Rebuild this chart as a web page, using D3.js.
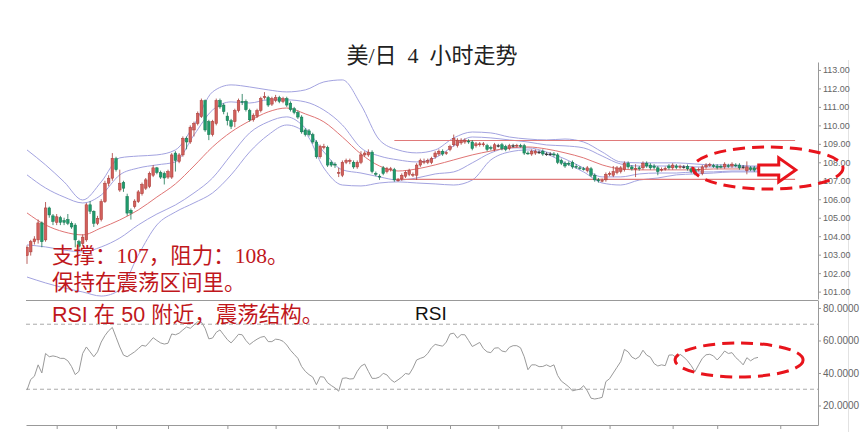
<!DOCTYPE html>
<html><head><meta charset="utf-8">
<script src="https://cdn.jsdelivr.net/npm/d3@7"></script>
<style>body{margin:0;background:#fff}svg{display:block}</style>
</head><body>
<svg id="c" width="865" height="448"></svg>
<script>
// ---- data (USD/JPY 4h candles) ----
const open = [102.95,103.15,103.70,103.80,104.72,103.80,105.53,105.10,104.75,105.00,104.85,104.90,104.70,104.60,103.70,103.60,103.80,105.70,105.35,104.70,
104.90,105.87,106.87,107.14,108.20,106.50,106.90,106.15,105.40,105.60,105.87,106.30,106.60,106.70,107.30,107.70,107.45,107.40,107.20,107.20,
108.50,108.05,108.40,109.30,109.10,109.75,110.10,110.47,111.34,110.20,109.50,110.10,111.34,111.10,110.50,110.25,110.20,110.80,111.30,111.30,
110.80,110.30,110.50,110.80,111.50,111.50,111.15,111.35,111.50,111.30,111.45,111.20,110.90,110.70,110.45,109.75,109.70,109.50,109.10,108.30,
108.80,108.80,108.00,107.90,107.40,107.30,108.00,108.05,108.00,107.75,108.00,108.40,108.40,108.55,107.40,107.25,107.70,107.50,107.60,107.60,
107.00,107.10,107.25,107.35,107.30,107.30,107.85,108.00,108.00,108.00,108.30,108.45,108.60,108.50,108.70,108.95,108.90,109.05,109.10,109.15,
109.10,108.90,108.95,108.95,108.90,108.80,108.70,108.90,108.95,108.85,108.75,108.90,108.90,108.90,108.90,108.50,108.45,108.50,108.55,108.60,
108.45,108.45,108.45,108.40,108.10,107.95,107.95,108.00,107.78,107.70,107.65,107.55,107.65,107.30,107.05,107.00,107.05,107.35,107.30,107.45,
107.50,107.60,107.95,107.75,107.65,107.70,107.70,107.95,107.85,107.80,107.70,107.60,107.65,107.80,107.70,107.80,107.75,107.75,107.78,107.65,
107.60,107.60,107.40,107.75,107.85,107.82,107.80,107.78,107.75,107.82,107.80,107.85,107.85,107.75,107.55,107.70,107.70,107.68];
const close = [103.40,103.70,103.85,104.72,103.70,105.53,105.15,104.80,105.05,104.75,104.75,104.70,104.50,103.80,103.45,103.95,105.70,105.35,104.70,104.97,
105.87,106.87,107.14,108.22,107.60,106.87,106.60,105.25,105.25,105.90,106.40,106.80,107.05,107.40,107.70,107.45,107.20,107.15,107.50,108.40,
108.10,108.40,109.30,109.10,109.90,110.10,110.65,111.34,109.75,109.50,110.20,111.34,111.00,110.75,110.25,109.95,110.80,111.34,111.25,110.85,
110.30,110.55,110.80,111.45,111.55,111.10,111.45,111.50,111.30,111.45,111.10,110.85,110.70,110.45,109.65,109.50,109.50,109.10,108.30,108.85,
108.85,107.85,107.85,107.85,107.45,108.00,108.10,108.10,107.75,108.00,108.40,108.50,108.55,107.50,107.35,107.20,107.40,107.65,107.65,107.05,
107.05,107.30,107.45,107.55,107.35,107.85,108.10,108.05,108.10,108.20,108.50,108.60,108.45,108.52,108.85,109.30,109.20,109.20,109.20,109.10,
108.75,109.00,109.00,109.00,108.70,108.75,108.95,108.90,108.75,108.70,108.90,108.90,108.92,108.88,108.50,108.48,108.60,108.60,108.55,108.45,
108.45,108.45,108.40,108.00,107.95,107.80,107.90,107.75,107.75,107.68,107.62,107.70,107.30,107.05,107.00,107.02,107.35,107.40,107.50,107.70,
107.70,107.95,107.75,107.65,107.67,107.65,107.95,107.80,107.70,107.72,107.50,107.62,107.67,107.70,107.85,107.72,107.77,107.75,107.65,107.50,
107.40,107.62,107.75,107.85,107.87,107.80,107.72,107.77,107.90,107.80,107.90,107.83,107.70,107.75,107.75,107.62,107.58,107.70];
const high = [103.50,103.80,104.00,104.90,104.80,105.85,105.60,105.20,105.20,105.10,105.00,105.20,104.80,104.70,103.80,104.10,105.80,105.90,105.40,105.10,
106.00,107.00,107.30,108.50,108.30,107.60,107.00,106.30,105.50,106.00,106.50,106.90,107.15,107.50,107.85,107.75,107.55,107.50,107.60,108.50,
108.60,108.50,109.40,109.40,110.00,110.20,110.75,111.45,111.40,110.30,110.30,111.45,111.45,111.20,110.70,110.35,110.90,111.45,111.70,111.40,
110.90,110.65,110.90,111.55,111.80,111.60,111.55,111.65,111.60,111.55,111.55,111.30,111.00,110.80,110.55,109.85,109.80,109.60,109.20,108.95,
109.00,108.90,108.10,108.00,107.70,108.10,108.20,108.20,108.10,108.10,108.60,108.60,108.70,108.65,107.50,107.35,107.80,107.75,107.75,107.70,
107.15,107.40,107.55,107.65,107.45,107.95,108.20,108.20,108.20,108.30,108.60,108.70,108.70,108.60,108.95,109.50,109.30,109.30,109.30,109.25,
109.20,109.10,109.10,109.10,109.00,108.90,109.05,109.00,109.05,108.95,109.00,109.00,109.00,109.00,109.00,108.60,108.70,108.70,108.65,108.70,
108.55,108.55,108.55,108.50,108.20,108.05,108.05,108.10,107.90,107.80,107.75,107.80,107.75,107.40,107.15,107.12,107.45,107.50,107.80,107.80,
107.80,108.05,108.05,107.85,107.90,107.80,108.05,108.05,107.95,107.90,107.80,107.72,107.77,107.90,107.95,107.90,107.87,107.85,107.88,107.75,
107.70,107.72,107.85,107.95,107.97,107.92,107.90,107.88,108.00,107.92,108.00,107.95,107.95,107.85,108.05,107.80,107.80,107.80];
const low = [102.50,102.95,103.55,103.60,103.40,103.70,105.00,104.60,104.60,104.60,104.60,104.60,104.40,103.40,103.30,103.50,103.70,105.20,104.50,104.60,
104.80,105.80,106.70,107.00,107.50,106.40,106.40,105.10,104.90,105.50,105.80,106.20,106.50,106.60,107.20,107.35,107.10,106.80,107.10,107.10,
107.50,107.95,108.30,108.70,109.00,109.40,110.00,110.40,109.65,109.20,109.40,110.00,110.90,110.60,110.00,109.80,109.90,110.70,111.10,110.75,
110.20,110.20,110.40,110.70,111.40,111.00,111.05,111.25,111.20,111.20,111.00,110.75,110.60,110.35,109.55,109.40,109.40,109.00,108.20,108.20,
108.70,107.75,107.75,107.70,107.20,107.20,107.90,107.90,107.65,107.65,107.90,108.30,108.30,107.40,107.25,107.05,107.30,107.40,107.50,106.95,
106.95,107.00,107.15,107.25,107.20,107.05,107.75,107.90,107.90,107.90,108.20,108.35,108.35,108.40,108.60,108.85,108.80,108.95,109.00,109.00,
108.65,108.80,108.85,108.85,108.60,108.65,108.60,108.80,108.65,108.60,108.65,108.80,108.80,108.80,108.40,108.40,108.35,108.40,108.45,108.35,
108.35,108.35,108.30,107.90,107.85,107.70,107.80,107.65,107.65,107.60,107.55,107.45,107.20,106.95,106.90,106.92,106.95,107.25,107.20,107.35,
107.40,107.50,107.65,107.55,107.20,107.55,107.60,107.70,107.60,107.62,107.30,107.50,107.55,107.60,107.60,107.62,107.65,107.65,107.55,107.40,
107.30,107.50,107.30,107.65,107.75,107.70,107.62,107.67,107.65,107.70,107.70,107.73,107.60,107.65,107.35,107.52,107.48,107.58];
// Band lines, sampled at these candle indices
const bandIdx = [0,5,10,15,20,25,30,35,40,45,50,55,60,65,70,75,80,85,90,95,100,105,110,115,120,125,130,135,140,145,150,155,160,165,170,175,180,185,190,195,197];
const upperOuter = [108.67,107.86,106.94,105.96,106.94,108.24,108.34,108.40,108.67,110.02,111.81,112.19,112.08,111.92,111.81,111.92,112.35,112.46,111.11,109.21,108.67,108.51,108.67,109.32,109.64,109.59,109.37,109.26,109.21,109.26,109.10,108.56,108.02,107.97,107.97,107.97,107.91,107.86,107.86,107.80,107.80];
const upperInner = [107.32,106.61,106.12,105.80,106.23,107.32,107.69,107.86,108.02,109.48,110.83,111.27,111.21,111.38,111.38,111.27,110.83,110.02,108.78,108.34,108.13,108.02,108.24,108.89,109.37,109.32,109.21,109.10,108.94,108.89,108.78,108.34,107.91,107.80,107.80,107.80,107.75,107.75,107.75,107.75,107.75];
const middle = [105.26,104.61,104.23,104.07,104.45,104.88,105.42,106.12,106.83,107.80,108.83,109.64,110.24,110.73,110.94,110.62,110.19,109.37,108.45,107.80,107.53,107.64,107.86,108.13,108.40,108.61,108.78,108.83,108.72,108.51,108.24,107.86,107.64,107.59,107.59,107.59,107.59,107.64,107.64,107.64,107.64];
const lowerInner = [103.53,103.42,103.25,103.15,103.42,103.90,104.61,105.20,105.69,106.34,107.15,108.40,109.59,110.19,110.46,109.86,108.56,107.59,107.42,107.21,107.04,107.15,107.37,107.48,107.97,108.51,108.78,108.78,108.56,108.18,107.69,107.21,107.21,107.37,107.42,107.42,107.48,107.48,107.53,107.53,107.53];
const lowerOuter = [101.79,101.47,101.20,100.98,100.76,101.09,102.98,104.61,105.31,105.80,106.34,107.32,108.56,109.48,110.02,109.59,107.69,106.77,106.72,106.88,106.94,106.88,106.83,106.77,107.04,108.13,108.56,108.67,108.45,107.97,107.48,106.88,106.77,107.04,107.15,107.32,107.37,107.42,107.48,107.48,107.48];
const rsi = [29.5,36,38,45,40,52,50,50.5,50,49,49,47.5,44,39,41,52,56,53,50,53,
59,63,66,68,62,56,51,50,51.5,53,55,57,56.5,59,61.7,60,58.5,57.8,58.3,64,
63.5,64.5,66.5,68.3,67.5,69.5,71.5,71.3,67.5,61,61.5,65,66.5,63.5,60.5,58.5,61,63.8,63.5,60,
57.5,59.3,60.8,62,62.5,59.3,59.3,60.8,60.5,59.5,57.2,54,51.5,49,44,41,39,37.5,32.8,37.7,
37.5,34,32.3,30.8,28.8,36.7,37,36.3,36.5,41,44.2,45.5,41,36.7,36.7,37.5,39.8,38.8,36,34.3,
35.8,37.5,39.7,39.2,43,48,49,49.8,52,55.5,57.6,57,56.5,59,64,64.5,61.5,63.6,63.5,60,
56.3,57.5,58.8,55,53,52.5,55.3,55.5,53.5,53,55.8,56.8,56.8,55.5,50,42,45,45,43.9,44,
45,43.9,45,38.5,35,33.3,31.5,29,29.6,30,32.2,29,24.5,24,24.4,25,34.7,36.5,40,43.5,
47,54.5,53,49.8,48.6,50,54,51,49.7,45.8,44.3,45,44.5,51,51.1,49.4,51.5,49.8,47.5,44.5,
40.8,45,49,51.2,51.5,50.5,48,50.5,53.5,52,52.5,49.5,47.5,45,49.4,47.5,49,49.6];
const priceTicks = [101,102,103,104,105,106,107,108,109,110,111,112,113];
const rsiTicks = [20,40,60,80];
const rsiLevels = [70,30];
const timeTickIdx = [8,24,38,54,67,84,97,114,127,144,157,174,186,203];
const rangeLines = [{from:99, to:207, value:109.18},{from:99, to:207, value:107.08}];
const titleText = "美/日  4  小时走势";
const notes = ["支撑：107，阻力：108。","保持在震荡区间里。"];
const rsiNote = "RSI 在 50 附近，震荡结构。";

// ---- drawing ----
const svg = d3.select("#c");
const N = close.length;
const x = d3.scaleLinear().domain([0, N-1]).range([27, 758]);
const yP = d3.scaleLinear().domain([100.6, 113.43]).range([299, 62]);
const yR = d3.scaleLinear().domain([8, 84.9]).range([425, 300]);
const xAxisScale = x.copy().domain([x.invert(26), x.invert(818)]).range([26, 818]);

const defs = svg.append("defs");
defs.append("clipPath").attr("id","mainClip").append("rect").attr("x",26).attr("y",62).attr("width",792).attr("height",237);
defs.append("clipPath").attr("id","rsiClip").append("rect").attr("x",26).attr("y",300).attr("width",792).attr("height",125);

// faint right edge line
svg.append("line").attr("x1",848.5).attr("x2",848.5).attr("y1",60).attr("y2",432).attr("stroke","#e2e2e2");

// title
svg.append("text").attr("x",432).attr("y",63).attr("text-anchor","middle").style("white-space","pre")
  .attr("font-family","'Liberation Serif','Noto Sans CJK SC',serif").attr("font-size",22).attr("fill","#222")
  .text(titleText);

const main = svg.append("g").attr("clip-path","url(#mainClip)");
const bandLine = (vals) => d3.line().curve(d3.curveMonotoneX).x((d,i)=>x(bandIdx[i])).y(d=>yP(d))(vals);
[upperOuter, upperInner, lowerInner, lowerOuter].forEach(v=>{
  main.append("path").attr("d", bandLine(v)).attr("fill","none").attr("stroke","#a3a3e0").attr("stroke-width",1);
});
main.append("path").attr("d", bandLine(middle)).attr("fill","none").attr("stroke","#e07575").attr("stroke-width",1);

rangeLines.forEach(r=>{
  main.append("line").attr("x1",x(r.from)).attr("x2",x(r.to)).attr("y1",yP(r.value)).attr("y2",yP(r.value))
    .attr("stroke","#e07a7a").attr("stroke-width",1.2);
});

const idx = d3.range(N);
const col = i => close[i] > open[i] ? {f:"#d2605c", s:"#a83a36"} : close[i] < open[i] ? {f:"#1f9b6c", s:"#167550"} : {f:"#333", s:"#333"};
const cg = main.append("g");
cg.selectAll("line").data(idx).join("line")
  .attr("x1",i=>x(i)).attr("x2",i=>x(i)).attr("y1",i=>yP(high[i])).attr("y2",i=>yP(low[i]))
  .attr("stroke",i=>col(i).s).attr("stroke-width",0.8);
cg.selectAll("rect").data(idx).join("rect")
  .attr("x",i=>x(i)-1.3).attr("width",2.6)
  .attr("y",i=>yP(Math.max(open[i],close[i])))
  .attr("height",i=>Math.max(0.8, Math.abs(yP(open[i])-yP(close[i]))))
  .attr("fill",i=>col(i).f).attr("stroke",i=>col(i).s).attr("stroke-width",0.5);

// price axis
const axP = svg.append("g").attr("transform","translate(818,0)")
  .call(d3.axisRight(yP).tickValues(priceTicks).tickFormat(d3.format(".2f")).tickSize(3).tickSizeOuter(0).tickPadding(2));
axP.select(".domain").attr("stroke","#999");
axP.selectAll(".tick line").attr("stroke","#999");
axP.selectAll(".tick text").attr("fill","#666").attr("font-size",9).attr("font-family","'Liberation Sans',Arial,sans-serif");

// separator
svg.append("line").attr("x1",26).attr("x2",818).attr("y1",300.5).attr("y2",300.5).attr("stroke","#999");

// RSI panel
rsiLevels.forEach(v=>{
  svg.append("line").attr("x1",26).attr("x2",818).attr("y1",yR(v)).attr("y2",yR(v))
    .attr("stroke","#aaa").attr("stroke-dasharray","4,3");
});
svg.append("g").attr("clip-path","url(#rsiClip)").append("path")
  .attr("d", d3.line().x((d,i)=>x(i)).y(d=>yR(d))(rsi))
  .attr("fill","none").attr("stroke","#9a9a9a").attr("stroke-width",1);

const axR = svg.append("g").attr("transform","translate(818,0)")
  .call(d3.axisRight(yR).tickValues(rsiTicks).tickFormat(d3.format(".4f")).tickSize(3).tickSizeOuter(0).tickPadding(2));
axR.select(".domain").attr("stroke","#999");
axR.selectAll(".tick line").attr("stroke","#999");
axR.selectAll(".tick text").attr("fill","#666").attr("font-size",10).attr("font-family","'Liberation Sans',Arial,sans-serif");

const axT = svg.append("g").attr("transform","translate(0,425)")
  .call(d3.axisBottom(xAxisScale).tickValues(timeTickIdx).tickFormat("").tickSize(4).tickSizeOuter(0));
axT.select(".domain").attr("stroke","#999");
axT.selectAll(".tick line").attr("stroke","#999");

svg.append("text").attr("x",415).attr("y",320).attr("font-family","'Liberation Sans',Arial,sans-serif")
  .attr("font-size",19).attr("fill","#111").text("RSI");

// notes
notes.forEach((t,k)=>{
  svg.append("text").attr("x",52).attr("y",263+k*27)
    .attr("font-family","'Liberation Serif','Noto Sans CJK SC',serif").attr("font-size",21.5).attr("fill","#c0171c").text(t);
});
svg.append("text").attr("x",52).attr("y",322)
  .attr("font-family","'Liberation Sans','Noto Sans CJK SC',sans-serif").attr("font-size",21.5).attr("fill","#c0171c").text(rsiNote);

// annotations
const red = "#e8141c";
svg.append("ellipse").attr("cx",x(199.7)).attr("cy",yP(107.69)).attr("rx",75).attr("ry",21)
  .attr("fill","none").attr("stroke",red).attr("stroke-width",3).attr("stroke-dasharray","12,7");
const ax0 = x(197.2), ay = yP(107.59);
const arrowPts = [[ax0,ay-5],[ax0+20,ay-5],[ax0+20,ay-12],[ax0+37,ay],[ax0+20,ay+12],[ax0+20,ay+5],[ax0,ay+5]];
svg.append("path").attr("d", d3.line()(arrowPts)+"Z").attr("fill","#fff").attr("stroke",red).attr("stroke-width",3).attr("stroke-linejoin","miter");
svg.append("ellipse").attr("cx",x(191.9)).attr("cy",yR(48)).attr("rx",64).attr("ry",17)
  .attr("fill","none").attr("stroke",red).attr("stroke-width",3).attr("stroke-dasharray","12,7");
</script>
</body></html>
